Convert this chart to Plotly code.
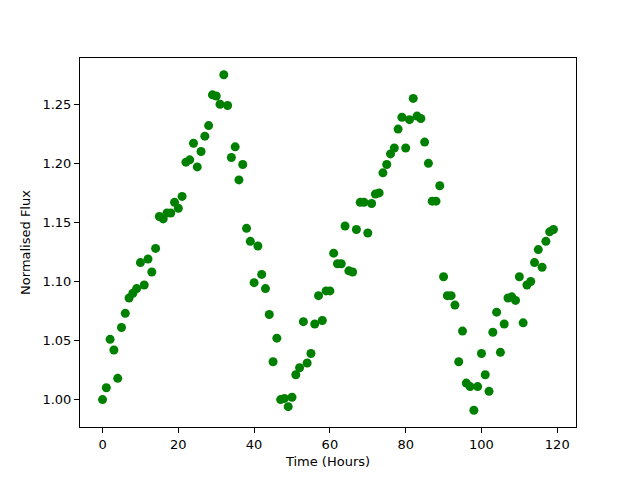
import plotly.graph_objects as go

hours = list(range(120))
flux = [
    1.000, 1.010, 1.051, 1.042, 1.018, 1.061, 1.073, 1.086, 1.090, 1.094,
    1.116, 1.097, 1.119, 1.108, 1.128, 1.155, 1.153, 1.158, 1.158, 1.167,
    1.162, 1.172, 1.201, 1.203, 1.217, 1.197, 1.210, 1.223, 1.232, 1.258,
    1.257, 1.250, 1.275, 1.249, 1.205, 1.214, 1.186, 1.199, 1.145, 1.134,
    1.099, 1.130, 1.106, 1.094, 1.072, 1.032, 1.052, 1.000, 1.001, 0.994,
    1.002, 1.021, 1.027, 1.066, 1.031, 1.039, 1.064, 1.088, 1.067, 1.092,
    1.092, 1.124, 1.115, 1.115, 1.147, 1.109, 1.108, 1.144, 1.167, 1.167,
    1.141, 1.166, 1.174, 1.175, 1.192, 1.199, 1.208, 1.213, 1.229, 1.239,
    1.213, 1.237, 1.255, 1.240, 1.238, 1.218, 1.200, 1.168, 1.168, 1.181,
    1.104, 1.088, 1.088, 1.080, 1.032, 1.058, 1.014, 1.011, 0.991, 1.011,
    1.039, 1.021, 1.007, 1.057, 1.074, 1.040, 1.064, 1.086, 1.087, 1.084,
    1.104, 1.065, 1.097, 1.100, 1.116, 1.127, 1.112, 1.134, 1.142, 1.144,
]
x_ticks = [0, 20, 40, 60, 80, 100, 120]
y_ticks = [1.00, 1.05, 1.10, 1.15, 1.20, 1.25]

fig = go.Figure(go.Scatter(
    x=hours, y=flux, mode="markers",
    marker=dict(color="#008000", size=9, line=dict(width=0)),
))

axis_common = dict(
    showgrid=False, zeroline=False, showline=True, linecolor="black", linewidth=1,
    mirror=True, ticks="outside", ticklen=5, tickwidth=1, tickcolor="black",
    tickfont=dict(family="DejaVu Sans", size=13, color="black"),
)
fig.update_xaxes(range=[-5.95, 124.95], tickvals=x_ticks,
                 title=dict(text="Time (Hours)", font=dict(family="DejaVu Sans", size=13, color="black"), standoff=6),
                 **axis_common)
fig.update_yaxes(range=[0.9768, 1.2892], tickvals=y_ticks, tickformat=".2f",
                 title=dict(text="Normalised Flux", font=dict(family="DejaVu Sans", size=13, color="black"), standoff=8),
                 **axis_common)
fig.update_layout(
    width=640, height=480,
    margin=dict(l=72, r=72, t=50, b=61),
    paper_bgcolor="white", plot_bgcolor="white",
    showlegend=False,
)
fig.write_html("out.html")
